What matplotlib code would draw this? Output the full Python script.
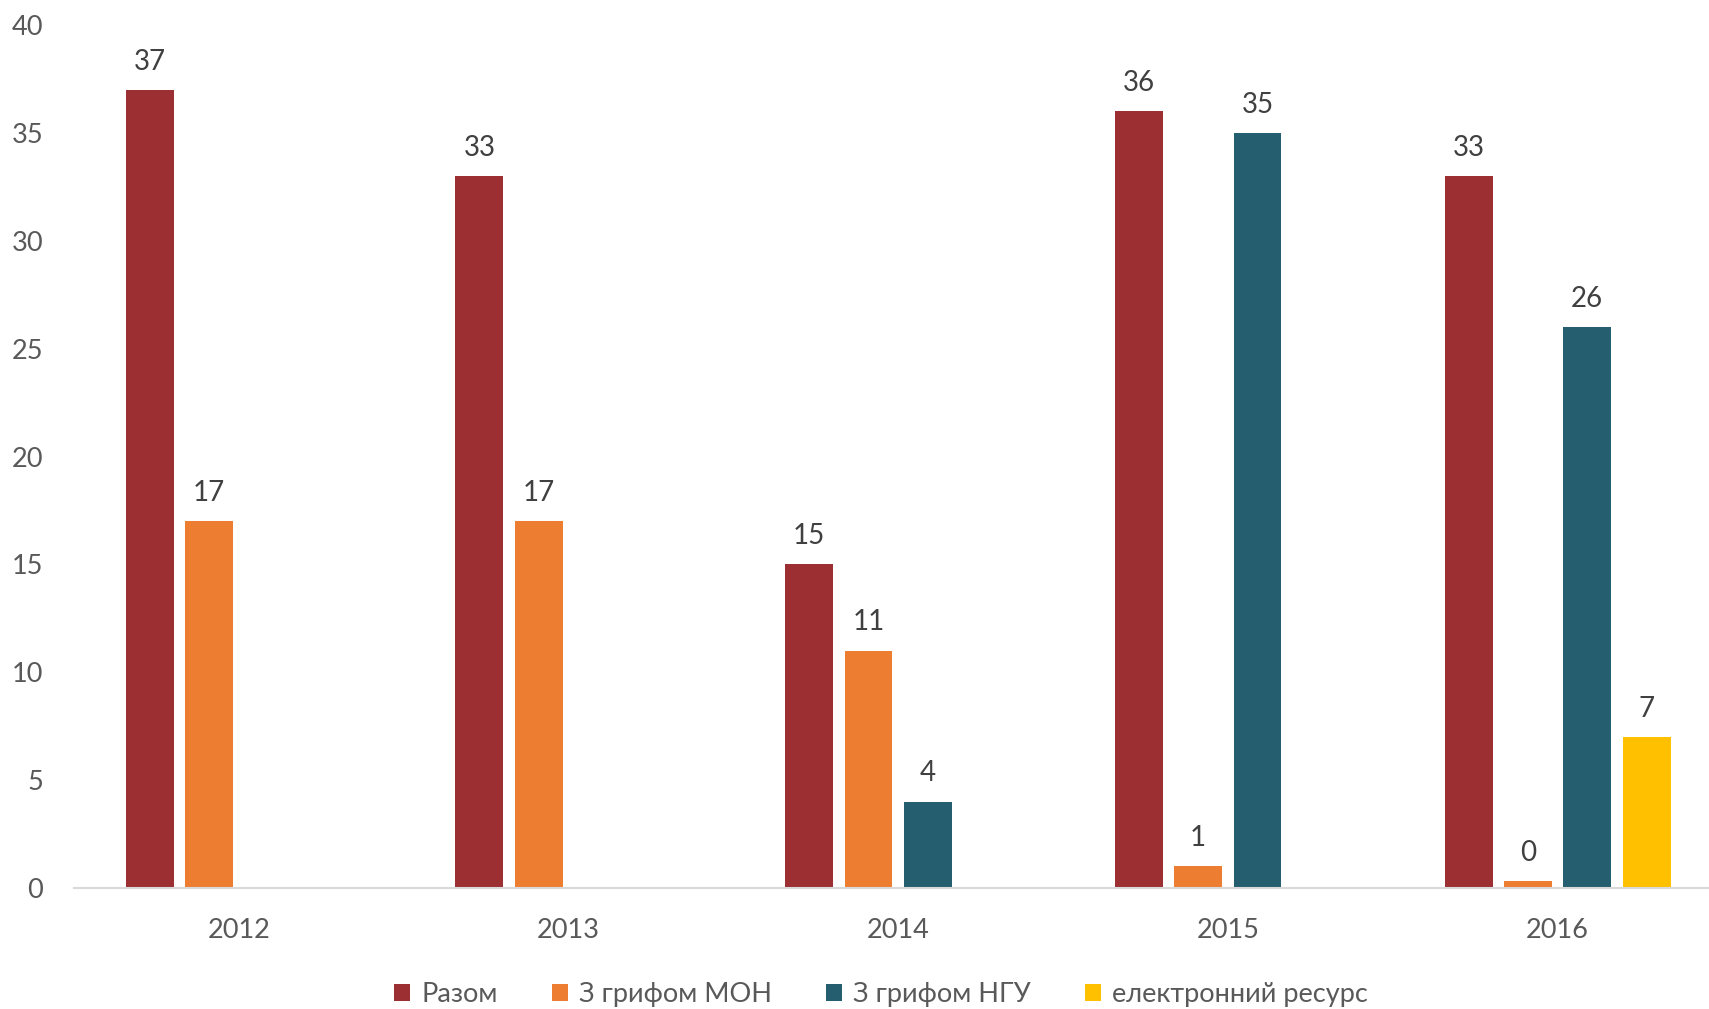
import matplotlib
matplotlib.use('Agg')
from matplotlib import pyplot as plt
import numpy as np

years = ['2012', '2013', '2014', '2015', '2016']
razom = [37, 33, 15, 36, 33]
mon = [17, 17, 11, 1, 0.3]
ngu = [np.nan, np.nan, 4, 35, 26]
elektr = [np.nan, np.nan, np.nan, np.nan, 7]

labels = ['Разом', 'З грифом МОН', 'З грифом НГУ', 'електронний ресурс']
colors = ['#9B2F31', '#ED7D31', '#255E6F', '#FFC000']
series = [razom, mon, ngu, elektr]

plt.rcParams['font.family'] = ['Lato', 'DejaVu Sans']

fig = plt.figure(figsize=(17.09, 10.09), dpi=100)
ax = fig.add_axes([0.0432, 0.12, 0.9647, 0.855])

x = np.arange(len(years))
pitch = 0.18
width = 0.145
for i, (vals, lab, col) in enumerate(zip(series, labels, colors)):
    pos = x + (i - 1.5) * pitch
    bars = ax.bar(pos, vals, width, color=col, label=lab)
    for b, v in zip(bars, vals):
        if np.isnan(v):
            continue
        ax.annotate(f"{v:.0f}", (b.get_x() + b.get_width() / 2, v),
                    xytext=(0, 11), textcoords='offset points',
                    ha='center', va='bottom', fontsize=20, color='#404040')

ax.set_xlim(-0.5, 4.5)
ax.set_ylim(0, 40)
ax.set_yticks(range(0, 41, 5))
ax.set_xticks(x)
ax.set_xticklabels(years)
ax.tick_params(axis='both', length=0, labelsize=19.5, labelcolor='#595959', pad=22)
for s in ['top', 'right', 'left']:
    ax.spines[s].set_visible(False)
ax.spines['bottom'].set_color('#D9D9D9')
ax.spines['bottom'].set_linewidth(1.5)

fig.legend(loc='center', bbox_to_anchor=(0.5155, 0.014), ncol=4, frameon=False,
           fontsize=19.5, labelcolor='#595959', handlelength=0.6, handleheight=0.6,
           handletextpad=0.4, columnspacing=2.0)

fig.savefig('out.png', dpi=100)
